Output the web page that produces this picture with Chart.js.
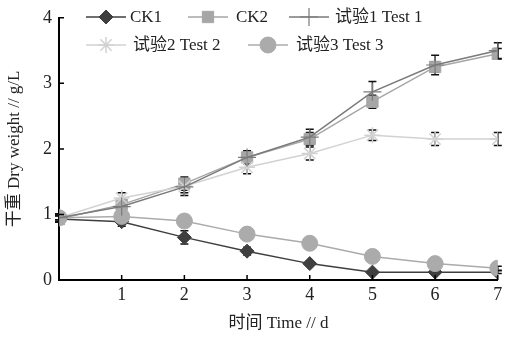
<!DOCTYPE html>
<html><head><meta charset="utf-8">
<script src="https://cdn.jsdelivr.net/npm/chart.js@4/dist/chart.umd.min.js"></script>
<style>html,body{margin:0;padding:0;background:#fff}#wrap{width:508px;height:338px}</style>
</head><body><div id="wrap"><canvas id="c" width="508" height="338"></canvas></div>
<script>
const days = [0, 1, 2, 3, 4, 5, 6, 7];
const xTickLabels = ['', '1', '2', '3', '4', '5', '6', '7'];
const yTickLabels = ['0', '1', '2', '3', '4'];
const seriesNames = ['CK1', 'CK2', '试验1 Test 1', '试验2 Test 2', '试验3 Test 3'];
const ck1 = [0.93, 0.89, 0.65, 0.44, 0.25, 0.12, 0.12, 0.12];
const ck2 = [0.93, 1.15, 1.47, 1.87, 2.15, 2.72, 3.25, 3.45];
const test1 = [0.95, 1.12, 1.42, 1.87, 2.18, 2.87, 3.28, 3.50];
const test2 = [0.95, 1.25, 1.43, 1.72, 1.93, 2.21, 2.15, 2.15];
const test3 = [0.95, 0.97, 0.90, 0.70, 0.56, 0.36, 0.25, 0.18];
const ck1Err = [0.05, 0.07, 0.10, 0.06, 0.03, 0.02, 0.02, 0.02];
const ck2Err = [0.05, 0.08, 0.10, 0.08, 0.10, 0.10, 0.08, 0.08];
const test1Err = [0.06, 0.10, 0.13, 0.10, 0.12, 0.16, 0.15, 0.12];
const test2Err = [0.05, 0.08, 0.10, 0.10, 0.10, 0.08, 0.10, 0.10];
const test3Err = [0.03, 0.03, 0.03, 0.03, 0.03, 0.03, 0.03, 0.03];

const FONT = '"Liberation Serif", "Noto Sans CJK SC", serif';
const styles = [
  {line:'#3f3f3f', fill:'#3f3f3f', pt:'rectRot', r:7, bw:1},
  {line:'#a6a6a6', fill:'#a6a6a6', pt:'rect', r:8, bw:1},
  {line:'#7a7a7a', fill:'#7a7a7a', pt:'cross', r:9, bw:1.2},
  {line:'#d2d2d2', fill:'#d2d2d2', pt:'star', r:8, bw:1.5},
  {line:'#ababab', fill:'#ababab', pt:'circle', r:8, bw:1}
];
const values = [ck1, ck2, test1, test2, test3];
const errs = [ck1Err, ck2Err, test1Err, test2Err, test3Err];
const order = [4, 3, 0, 2, 1];

const datasets = values.map((v, i) => ({
  label: seriesNames[i],
  data: days.map((d, k) => ({x: d, y: v[k]})),
  err: errs[i],
  borderColor: styles[i].line,
  backgroundColor: styles[i].fill,
  pointBackgroundColor: styles[i].fill,
  pointBorderColor: styles[i].fill,
  pointBorderWidth: styles[i].bw,
  pointStyle: styles[i].pt,
  pointRadius: styles[i].r,
  borderWidth: 1.5,
  tension: 0,
  order: order[i]
}));

const errorBars = {
  id: 'errorBars',
  beforeDatasetsDraw(chart) {
    const ctx = chart.ctx, ys = chart.scales.y, xs = chart.scales.x;
    ctx.save();
    ctx.strokeStyle = '#111';
    ctx.lineWidth = 1.5;
    chart.data.datasets.forEach(ds => {
      ds.data.forEach((p, k) => {
        const e = ds.err[k];
        const px = xs.getPixelForValue(p.x);
        const t = ys.getPixelForValue(p.y + e), b = ys.getPixelForValue(p.y - e);
        ctx.beginPath();
        ctx.moveTo(px, t); ctx.lineTo(px, b);
        ctx.moveTo(px - 4, t); ctx.lineTo(px + 4, t);
        ctx.moveTo(px - 4, b); ctx.lineTo(px + 4, b);
        ctx.stroke();
      });
    });
    ctx.restore();
  }
};

const innerTicks = {
  id: 'innerTicks',
  afterDraw(chart) {
    const ctx = chart.ctx, ys = chart.scales.y, xs = chart.scales.x;
    const x0 = xs.getPixelForValue(0), y0 = ys.getPixelForValue(0);
    ctx.save();
    ctx.strokeStyle = '#000';
    ctx.lineWidth = 1.5;
    ctx.beginPath();
    yTickLabels.forEach((l, i) => { if (i > 0) { const py = ys.getPixelForValue(i); ctx.moveTo(x0, py); ctx.lineTo(x0 + 5, py); } });
    xTickLabels.forEach((l, i) => { if (i > 0) { const px = xs.getPixelForValue(i); ctx.moveTo(px, y0); ctx.lineTo(px, y0 - 5); } });
    ctx.stroke();
    ctx.restore();
  }
};

const legendBox = {
  id: 'legendBox',
  afterDraw(chart) {
    const ctx = chart.ctx;
    const pos = [
      {x: 86, y: 17, tx: 130},
      {x: 188, y: 17, tx: 236},
      {x: 289, y: 17, tx: 335},
      {x: 86, y: 45, tx: 133},
      {x: 248, y: 45, tx: 296}
    ];
    ctx.save();
    chart.data.datasets.forEach((ds, i) => {
      const p = pos[i], s = styles[i];
      ctx.strokeStyle = s.line; ctx.lineWidth = 1.5;
      ctx.beginPath(); ctx.moveTo(p.x, p.y); ctx.lineTo(p.x + 40, p.y); ctx.stroke();
      ctx.fillStyle = s.fill; ctx.strokeStyle = s.fill; ctx.lineWidth = s.bw;
      Chart.helpers.drawPoint(ctx, {pointStyle: s.pt, radius: s.r, borderWidth: s.bw, rotation: 0}, p.x + 20, p.y);
      ctx.fillStyle = '#222';
      ctx.font = '17px ' + FONT;
      ctx.textBaseline = 'middle';
      ctx.fillText(ds.label, p.tx, p.y + 1);
    });
    ctx.restore();
  }
};

new Chart(document.getElementById('c'), {
  type: 'line',
  data: {datasets},
  plugins: [errorBars, innerTicks, legendBox],
  options: {
    responsive: false,
    animation: false,
    layout: {padding: {top: 14, right: 7, left: 0, bottom: 0}},
    plugins: {legend: {display: false}, tooltip: {enabled: false}},
    scales: {
      x: {
        type: 'linear', min: 0, max: 7,
        grid: {display: false, drawTicks: false},
        border: {color: '#000', width: 2},
        ticks: {stepSize: 1, color: '#222', font: {family: FONT, size: 18}, padding: 4,
          callback: (v) => xTickLabels[v] ?? ''},
        title: {display: true, text: '时间 Time // d', color: '#222', font: {family: FONT, size: 17}, padding: {top: 6}},
        afterFit: (s) => { s.height = 58; }
      },
      y: {
        type: 'linear', min: 0, max: 4,
        grid: {display: false, drawTicks: false},
        border: {color: '#000', width: 2},
        ticks: {stepSize: 1, color: '#222', font: {family: FONT, size: 18}, padding: 7,
          callback: (v) => yTickLabels[v] ?? ''},
        title: {display: true, text: '干重 Dry weight // g/L', color: '#222', font: {family: FONT, size: 17}, padding: {bottom: 6}},
        afterFit: (s) => { s.width = 59; }
      }
    }
  }
});
</script></body></html>
